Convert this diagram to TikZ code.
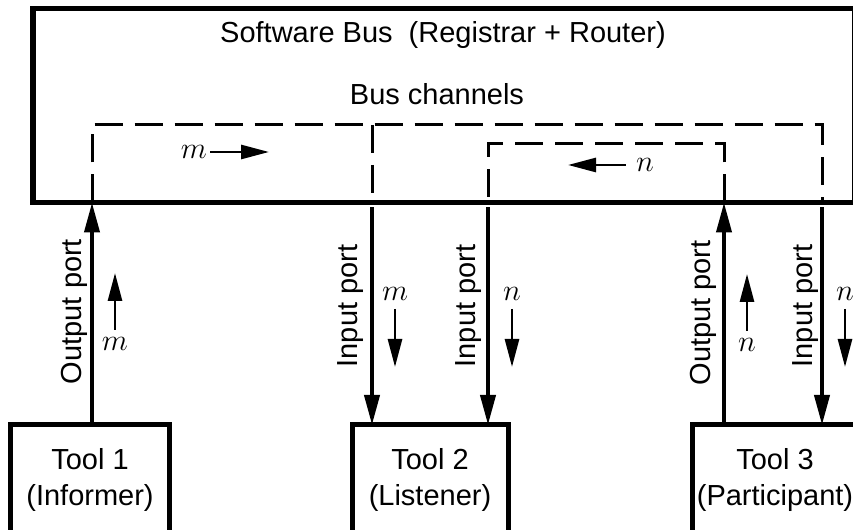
\documentclass[tikz,border=0pt]{standalone}
\usepackage{fontspec}
\setmainfont{Liberation Sans}
\usetikzlibrary{arrows.meta}

\begin{document}
\begin{tikzpicture}[
    font=\fontsize{16.5}{20}\selectfont,
    port/.style={line width=0.08cm, -{Triangle[length=0.6cm,width=0.3cm]}},
    flow/.style={line width=0.055cm, -{Triangle[length=0.56cm,width=0.28cm,sep=0.12cm]}},
    chan/.style={line width=0.06cm, dash pattern=on 0.56cm off 0.24cm},
    letter/.style={inner sep=0pt},
    portlabel/.style={rotate=90, anchor=base, inner sep=0pt}]

  \useasboundingbox (0,0) rectangle (17.06,10.6);
  \clip (0,0) rectangle (17.06,10.6);

  \begin{scope}[every node/.style={draw, line width=0.1cm, rectangle, inner sep=0pt, outer sep=0pt}]
    \node[minimum width=16.42cm, minimum height=3.88cm] (bus) at (8.87,8.49) {};
    \node[minimum width=3.18cm, minimum height=2.2cm, align=center] (tool1) at (1.8,1.0) {Tool 1\\(Informer)};
    \node[minimum width=3.12cm, minimum height=2.2cm, align=center] (tool2) at (8.6,1.0) {Tool 2\\(Listener)};
    \node[minimum width=3.3cm, minimum height=2.2cm, align=center] (tool3) at (15.5,1.0) {Tool 3\\(Participant)};
  \end{scope}

  \node[anchor=base] (title) at (8.86,9.74) {Software Bus\ \ (Registrar + Router)};
  \node[anchor=base] (chans) at (8.74,8.5) {Bus channels};

  % ports on the bus
  \coordinate (p1) at (1.84,6.55);
  \coordinate (p2) at (7.44,6.55);
  \coordinate (p3) at (9.76,6.55);
  \coordinate (p4) at (14.48,6.55);
  \coordinate (p5) at (16.44,6.55);

  % bus channels
  \coordinate (mtop) at (0,8.1);
  \coordinate (ntop) at (0,7.72);
  \draw[chan] (p1) |- (mtop -| p5) -- (p5);
  \draw[chan] (mtop -| p2) -- (p2);
  \draw[chan] (p4) |- (ntop -| p3) -- (p3);

  \begin{scope}[every edge/.style={draw, port}]
    \path (tool1.north -| p1) edge (p1);
    \path (p2) edge[shorten <=0.1cm] (tool2.north -| p2);
    \path (p3) edge[shorten <=0.1cm] (tool2.north -| p3);
    \path (tool3.north -| p4) edge (p4);
    \path (p5) edge[shorten <=0.1cm] (tool3.north -| p5);
  \end{scope}

  \node[portlabel] (lbl1) at (1.64,4.37) {Output port};
  \node[portlabel] (lbl2) at (7.14,4.48) {Input port};
  \node[portlabel] (lbl3) at (9.5,4.48) {Input port};
  \node[portlabel] (lbl4) at (14.2,4.34) {Output port};
  \node[portlabel] (lbl5) at (16.24,4.48) {Input port};

  % message directions
  \node[letter] (m1) at (2.3,3.72) {$m$};
  \coordinate (m1tip) at (2.3,5.26);
  \draw[flow, shorten <=0.15cm] (m1.north) -- (m1tip);

  \node[letter] (m2) at (7.9,4.72) {$m$};
  \coordinate (m2tip) at (7.9,3.14);
  \draw[flow, shorten <=0.16cm] (m2.south) -- (m2tip);

  \node[letter] (n3) at (10.24,4.72) {$n$};
  \coordinate (n3tip) at (10.24,3.14);
  \draw[flow, shorten <=0.16cm] (n3.south) -- (n3tip);

  \node[letter] (n4) at (14.94,3.7) {$n$};
  \coordinate (n4tip) at (14.94,5.24);
  \draw[flow, shorten <=0.15cm] (n4.north) -- (n4tip);

  \node[letter] (n5) at (16.9,4.72) {$n$};
  \coordinate (n5tip) at (16.9,3.14);
  \draw[flow, shorten <=0.16cm] (n5.south) -- (n5tip);

  \node[letter] (mh) at (3.88,7.56) {$m$};
  \coordinate (mhtip) at (5.5,7.56);
  \draw[flow, shorten <=0.06cm] (mh.east) -- (mhtip);

  \node[letter] (nh) at (12.9,7.3) {$n$};
  \coordinate (nhtip) at (11.24,7.3);
  \draw[flow, shorten <=0.2cm] (nh.west) -- (nhtip);

\end{tikzpicture}
\end{document}
